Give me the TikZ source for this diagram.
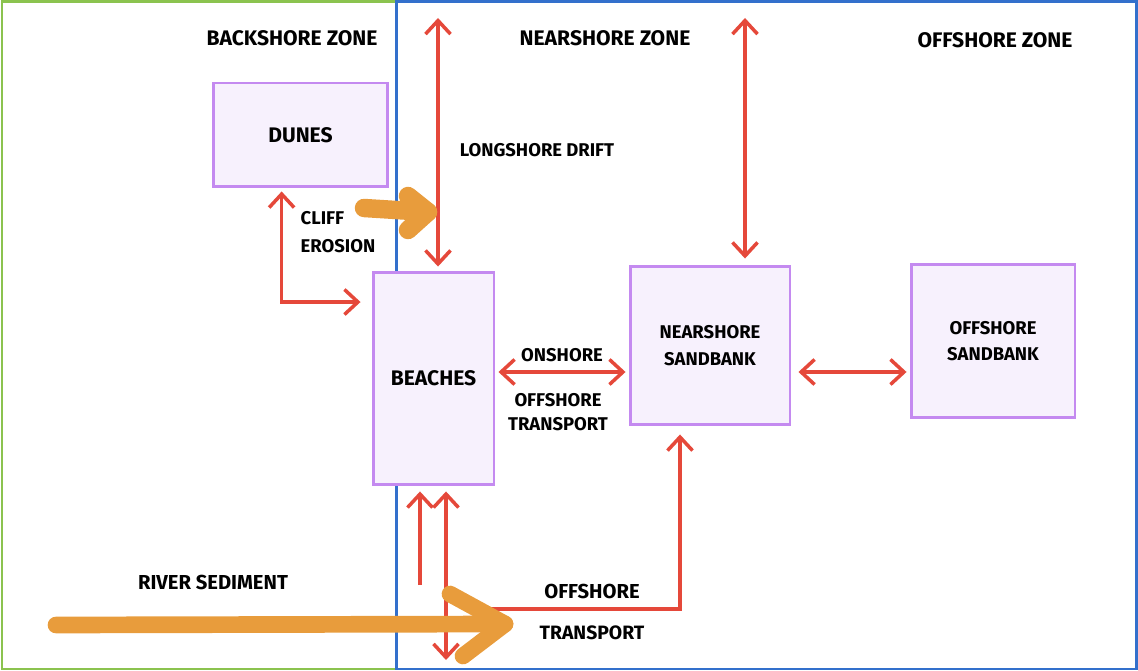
\documentclass[tikz,border=0pt]{standalone}
\usepackage{fontspec}
\setsansfont{Fira Sans}
\usepackage{xcolor}
\definecolor{flowred}{HTML}{E5483A}
\definecolor{sedorange}{HTML}{E89C3C}
\definecolor{boxline}{HTML}{C48AF0}
\definecolor{boxfill}{HTML}{F7F1FD}
\definecolor{backgreen}{HTML}{8BC34F}
\definecolor{nearblue}{HTML}{3370CC}
\usepackage{tikz}
\usetikzlibrary{arrows.meta}
\usetikzlibrary{calc}
\usetikzlibrary{positioning}

\begin{document}
\begin{tikzpicture}[x=0.02cm, y=-0.02cm,
    every node/.style={font=\sffamily\bfseries\fontsize{10.5}{15}\selectfont, align=center},
    big/.style={font=\sffamily\bfseries\fontsize{12}{15}\selectfont},
    zone/.style={line width=1.7pt},
    sedbox/.style={draw=boxline, fill=boxfill, line width=1.7pt},
    flow/.style={draw=flowred, line width=2pt, arrows={Straight Barb[length=2.7mm, width=5mm]-Straight Barb[length=2.7mm, width=5mm]}},
    flowup/.style={draw=flowred, line width=2pt, arrows={-Straight Barb[length=2.7mm, width=5mm]}},
    sediment/.style={draw=sedorange, line width=9.5pt, line cap=round, line join=round}]

    \useasboundingbox (0, 0) rectangle (1138, 671);

    \draw [zone, backgreen] (2, 2) rectangle (396, 669);
    \draw [zone, nearblue] (396, 2) rectangle (1136, 669);

    \node [big] (backzone) at (292, 38) {BACKSHORE ZONE};
    \node [big] (nearzone) at (605, 38) {NEARSHORE ZONE};
    \node [big] (offzone) at (995, 40) {OFFSHORE ZONE};

    \node [sedbox, big, minimum width=3.5cm, minimum height=2.08cm] (dunes) at (300.5, 135) {DUNES};
    \node [sedbox, big, minimum width=2.42cm, minimum height=4.26cm] (beaches) at (433.5, 378.5) {BEACHES};
    \node [sedbox, minimum width=3.2cm, minimum height=3.18cm] (nearbank) at (710, 345.5) {NEARSHORE\\SANDBANK};
    \node [sedbox, minimum width=3.28cm, minimum height=3.08cm] (offbank) at (993, 341) {OFFSHORE\\SANDBANK};

    \node (drift) at (537, 150) {LONGSHORE DRIFT};
    \node [align=left, font=\sffamily\bfseries\fontsize{10.5}{16}\selectfont] (cliff) at (338, 232) {CLIFF\\EROSION};
    \node (onshore) at (562, 355) {ONSHORE};
    \node [font=\sffamily\bfseries\fontsize{10.5}{13.5}\selectfont] (offtrans) at (558, 412) {OFFSHORE\\TRANSPORT};
    \node [font=\sffamily\bfseries\fontsize{11.5}{15}\selectfont] (river) at (213, 582) {RIVER SEDIMENT};
    \node [font=\sffamily\bfseries\fontsize{11.5}{15}\selectfont] (otlabA) at (592, 591) {OFFSHORE};
    \node [font=\sffamily\bfseries\fontsize{11}{15}\selectfont] (otlabB) at (592, 633) {TRANSPORT};

    \coordinate (lstop) at (438, 18);
    \coordinate (nstop) at (745, 18);
    \coordinate (row) at (0, 372);
    \coordinate (rivup) at (420, 585);
    \coordinate (rivdown) at (446, 660);
    \coordinate (otstart) at (490, 609);
    \coordinate (otcorner) at (680, 609);

    \draw [flow, shorten >=0.08cm] (lstop) -- (beaches.north -| lstop);
    \draw [flow, shorten >=0.12cm] (nstop) -- (nearbank.north -| nstop);
    \draw [flow, shorten <=0.06cm, shorten >=0.22cm]
      ($(dunes.south west)!0.394!(dunes.south east)$) |- ([yshift=1.53cm]beaches.west);
    \draw [flow, shorten <=0.06cm, shorten >=0.06cm] (beaches.east |- row) -- (nearbank.west |- row);
    \draw [flow, shorten <=0.14cm, shorten >=0.06cm] (nearbank.east |- row) -- (offbank.west |- row);
    \draw [flowup, shorten >=0.1cm] (rivup) -- (beaches.south -| rivup);
    \draw [flow, shorten <=0.1cm] (beaches.south -| rivdown) -- (rivdown);
    \draw [flowup, shorten >=0.16cm] (otstart) -- (otcorner) -- (nearbank.south -| otcorner);

    \coordinate (cetail) at (364, 208);
    \coordinate (cehead) at (428, 212);
    \draw [sediment, line width=10.5pt] (cetail) -- (cehead);
    \draw [sediment, line width=10.5pt] ($(cehead) + (-20, -16)$) -- (cehead) -- ($(cehead) + (-20, 18)$);

    \coordinate (rstail) at (56, 625);
    \coordinate (rshead) at (505, 624);
    \draw [sediment] (rstail) -- (rshead);
    \draw [sediment] ($(rshead) + (-55, -30)$) -- (rshead) -- ($(rshead) + (-42, 32)$);

  \end{tikzpicture}
\end{document}
